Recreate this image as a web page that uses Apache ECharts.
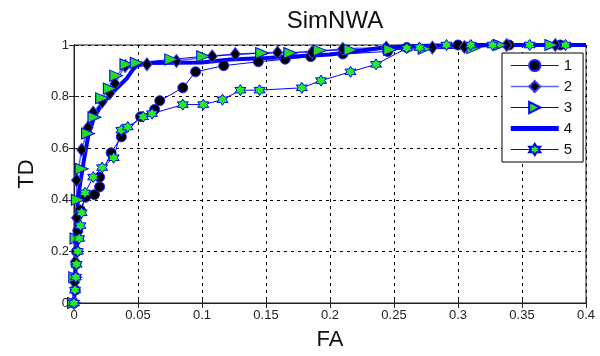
<!DOCTYPE html>
<html>
<head>
<meta charset="utf-8">
<script src="https://cdn.jsdelivr.net/npm/echarts@6/dist/echarts.min.js"></script>
<style>
  html, body { margin: 0; padding: 0; background: #fff; }
  #chart { width: 600px; height: 356px; }
</style>
</head>
<body>
<div id="chart"></div>
<script>
// ROC curves
const names = ['1', '2', '3', '4', '5'];

const fa1 = [0, 0.001, 0.001, 0.0015, 0.002, 0.003, 0.005, 0.009, 0.016, 0.02, 0.02, 0.029, 0.037, 0.052, 0.063, 0.067, 0.085, 0.095, 0.117, 0.144, 0.165, 0.185, 0.21, 0.245, 0.26, 0.3, 0.34, 0.38];
const td1 = [0, 0.05, 0.1, 0.15, 0.2, 0.28, 0.36, 0.41, 0.42, 0.45, 0.488, 0.582, 0.644, 0.722, 0.75, 0.784, 0.834, 0.896, 0.92, 0.935, 0.945, 0.955, 0.965, 0.975, 0.99, 1, 1, 1];

const fa2 = [0, 0.0005, 0.001, 0.0015, 0.002, 0.002, 0.006, 0.011, 0.015, 0.022, 0.028, 0.032, 0.04, 0.057, 0.08, 0.108, 0.126, 0.159, 0.186, 0.21, 0.244, 0.28, 0.305, 0.338, 0.376];
const td2 = [0, 0.08, 0.16, 0.2, 0.33, 0.476, 0.594, 0.68, 0.738, 0.78, 0.813, 0.85, 0.919, 0.925, 0.938, 0.956, 0.965, 0.971, 0.972, 0.985, 0.99, 0.99, 0.992, 1, 1];

const fa3 = [0, 0.001, 0.002, 0.003, 0.006, 0.011, 0.016, 0.022, 0.028, 0.033, 0.041, 0.049, 0.076, 0.101, 0.147, 0.169, 0.192, 0.216, 0.247, 0.274, 0.312, 0.333, 0.373];
const td3 = [0, 0.1, 0.25, 0.4, 0.52, 0.657, 0.72, 0.794, 0.831, 0.881, 0.925, 0.931, 0.944, 0.956, 0.969, 0.969, 0.979, 0.981, 0.982, 0.985, 0.988, 1, 1];

const fa4 = [0, 0.001, 0.002, 0.003, 0.005, 0.008, 0.011, 0.015, 0.02, 0.028, 0.035, 0.041, 0.046, 0.049, 0.057, 0.1, 0.122, 0.15, 0.2, 0.22, 0.239, 0.26, 0.3, 0.4];
const td4 = [0, 0.1, 0.3, 0.4, 0.47, 0.56, 0.644, 0.71, 0.757, 0.806, 0.84, 0.869, 0.905, 0.919, 0.93, 0.932, 0.944, 0.95, 0.963, 0.975, 0.988, 0.995, 1, 1];

const fa5 = [0, 0.0008, 0.0015, 0.002, 0.003, 0.004, 0.005, 0.006, 0.0086, 0.015, 0.022, 0.031, 0.037, 0.042, 0.054, 0.061, 0.085, 0.101, 0.116, 0.13, 0.145, 0.178, 0.193, 0.216, 0.236, 0.26, 0.27, 0.291, 0.31, 0.327, 0.356, 0.384];
const td5 = [0, 0.05, 0.1, 0.15, 0.2, 0.25, 0.3, 0.35, 0.427, 0.488, 0.525, 0.563, 0.67, 0.682, 0.722, 0.734, 0.769, 0.769, 0.788, 0.825, 0.825, 0.834, 0.862, 0.896, 0.925, 0.988, 0.99, 1, 1, 1, 1, 1];

const xTicks = [0, 0.05, 0.1, 0.15, 0.2, 0.25, 0.3, 0.35, 0.4];
const yTicks = [0, 0.2, 0.4, 0.6, 0.8, 1];

function pairs(xs, ys) {
  return xs.map((x, i) => [x, ys[i]]);
}

// six pointed star (matlab 'hexagram')
function hexagram() {
  let d = '';
  for (let k = 0; k < 12; k++) {
    const r = k % 2 === 0 ? 1 : 0.577;
    const a = (90 + k * 30) * Math.PI / 180;
    const x = (r * Math.cos(a)).toFixed(3);
    const y = (-r * Math.sin(a)).toFixed(3);
    d += (k === 0 ? 'M' : 'L') + x + ' ' + y + ' ';
  }
  return 'path://' + d + 'Z';
}

const font = '"Liberation Sans", Arial, sans-serif';
const gridLine = { show: true, lineStyle: { color: '#000', type: [3, 4], width: 1 } };
const tickStyle = { show: true, inside: true, length: 5, lineStyle: { color: '#222' } };

const chart = echarts.init(document.getElementById('chart'), null, { renderer: 'canvas' });

const option = {
  backgroundColor: '#fff',
  animation: false,
  title: {
    text: 'SimNWA',
    left: 330,
    top: 4,
    textAlign: 'center',
    textStyle: { fontFamily: font, fontSize: 24, fontWeight: 'normal', color: '#111' }
  },
  legend: {
    orient: 'vertical',
    left: 502,
    top: 53,
    padding: [5, 11, 5, 8],
    itemWidth: 48,
    itemHeight: 14,
    itemGap: 6,
    backgroundColor: '#fff',
    borderColor: '#000',
    borderWidth: 1,
    borderRadius: 0,
    data: [
      { name: names[0], lineStyle: { width: 1 } },
      { name: names[1], lineStyle: { width: 1.5 } },
      { name: names[2], lineStyle: { width: 1 } },
      // flat icon so only the thick line shows
      { name: names[3], icon: 'path://M0 0 L10 0 L10 1 L0 1 Z', lineStyle: { width: 4 } },
      { name: names[4], lineStyle: { width: 1 } }
    ],
    textStyle: { fontFamily: font, fontSize: 15, color: '#111' }
  },
  grid: { left: 74, right: 14, top: 45, bottom: 44, show: true, borderColor: '#222', borderWidth: 1 },
  xAxis: [{
    type: 'value',
    min: xTicks[0],
    max: xTicks[xTicks.length - 1],
    interval: 0.05,
    name: 'FA',
    nameLocation: 'middle',
    nameGap: 26,
    nameTextStyle: { fontFamily: font, fontSize: 22, color: '#111' },
    axisLine: { show: true, lineStyle: { color: '#222' } },
    axisTick: tickStyle,
    axisLabel: { fontFamily: font, fontSize: 13, color: '#222', margin: 6 },
    splitLine: gridLine
  }, {
    type: 'value', position: 'top',
    min: xTicks[0], max: xTicks[xTicks.length - 1], interval: 0.05,
    axisLine: { show: true, lineStyle: { color: '#222' } },
    axisTick: tickStyle, axisLabel: { show: false }, splitLine: { show: false }
  }],
  yAxis: [{
    type: 'value',
    min: yTicks[0],
    max: yTicks[yTicks.length - 1],
    interval: 0.2,
    name: 'TD',
    nameLocation: 'middle',
    nameRotate: 90,
    nameGap: 36,
    nameTextStyle: { fontFamily: font, fontSize: 22, color: '#111' },
    axisLine: { show: true, lineStyle: { color: '#222' } },
    axisTick: tickStyle,
    axisLabel: { fontFamily: font, fontSize: 13, color: '#222', margin: 5 },
    splitLine: gridLine
  }, {
    type: 'value', position: 'right',
    min: yTicks[0], max: yTicks[yTicks.length - 1], interval: 0.2,
    axisLine: { show: true, lineStyle: { color: '#222' } },
    axisTick: tickStyle, axisLabel: { show: false }, splitLine: { show: false }
  }],
  series: [
    {
      name: names[0], type: 'line', data: pairs(fa1, td1),
      symbol: 'circle', symbolSize: 10,
      lineStyle: { color: '#0000ff', width: 1 },
      itemStyle: { color: '#000', borderColor: '#2222ff', borderWidth: 1 }
    },
    {
      name: names[1], type: 'line', data: pairs(fa2, td2),
      symbol: 'diamond', symbolSize: [10, 13],
      lineStyle: { color: '#6060ff', width: 1.5 },
      itemStyle: { color: '#000', borderColor: '#4040ff', borderWidth: 1 }
    },
    {
      name: names[2], type: 'line', data: pairs(fa3, td3),
      symbol: 'triangle', symbolSize: [11, 13], symbolRotate: -90,
      lineStyle: { color: '#0000ff', width: 1 },
      itemStyle: { color: '#22dd22', borderColor: '#0000ff', borderWidth: 1 }
    },
    {
      name: names[3], type: 'line', data: pairs(fa4, td4),
      symbol: 'none',
      lineStyle: { color: '#0000ff', width: 4 },
      itemStyle: { color: '#0000ff' }
    },
    {
      name: names[4], type: 'line', data: pairs(fa5, td5),
      symbol: hexagram(), symbolSize: 11,
      lineStyle: { color: '#0000ff', width: 1 },
      itemStyle: { color: '#22ee22', borderColor: '#0000ff', borderWidth: 1 }
    }
  ]
};

chart.setOption(option);
</script>
</body>
</html>
